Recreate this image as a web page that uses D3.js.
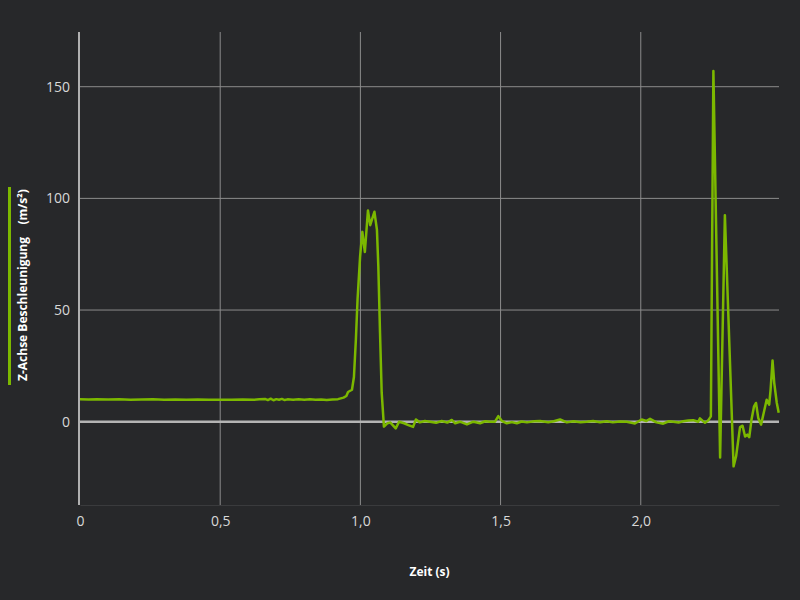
<!DOCTYPE html>
<html>
<head>
<meta charset="utf-8">
<script src="https://cdn.jsdelivr.net/npm/d3@7"></script>
<style>
  body { margin: 0; background: #27282a; }
  svg { display: block; }
</style>
</head>
<body>
<svg width="800" height="600"></svg>
<script>
// Messwerte (Zeit in s, Beschleunigung in m/s²)
var zeit = [
  0, 0.03, 0.06, 0.10, 0.14, 0.18, 0.22, 0.26, 0.30, 0.34, 0.38, 0.42, 0.46, 0.50,
  0.54, 0.58, 0.62, 0.64, 0.66, 0.67, 0.68, 0.69, 0.70, 0.71, 0.72, 0.73, 0.74, 0.76,
  0.78, 0.80, 0.82, 0.84, 0.86, 0.88, 0.90, 0.92, 0.94, 0.95, 0.956, 0.970, 0.977,
  0.984, 0.990, 0.999, 1.007, 1.016, 1.027, 1.035, 1.050, 1.059, 1.064, 1.070, 1.076,
  1.084, 1.096, 1.107, 1.126, 1.138, 1.156, 1.171, 1.188, 1.198, 1.212, 1.230, 1.248,
  1.270, 1.290, 1.310, 1.326, 1.338, 1.355, 1.380, 1.403, 1.427, 1.445, 1.462, 1.480,
  1.492, 1.504, 1.522, 1.540, 1.558, 1.575, 1.594, 1.620, 1.641, 1.670, 1.690, 1.712,
  1.736, 1.760, 1.785, 1.807, 1.830, 1.855, 1.879, 1.900, 1.925, 1.950, 1.979, 2.003,
  2.020, 2.033, 2.056, 2.080, 2.100, 2.116, 2.135, 2.151, 2.170, 2.187, 2.205, 2.211,
  2.229, 2.240, 2.250, 2.259, 2.283, 2.300, 2.331, 2.340, 2.348, 2.354, 2.363, 2.372,
  2.380, 2.387, 2.395, 2.404, 2.411, 2.419, 2.429, 2.437, 2.449, 2.458, 2.463, 2.470,
  2.476, 2.485, 2.492
];
var beschleunigung = [
  10.0, 9.9, 10.0, 9.9, 10.0, 9.8, 9.9, 10.0, 9.8, 9.9, 9.8, 9.9, 9.8, 9.8,
  9.8, 9.9, 9.8, 10.0, 10.2, 9.7, 10.3, 9.6, 10.1, 9.8, 10.2, 9.7, 10.0, 9.8,
  10.0, 9.8, 10.0, 9.8, 9.9, 9.7, 9.9, 10.1, 10.8, 11.5, 13.3, 14.3, 20,
  37, 55, 74, 85, 76, 94.6, 88, 94, 86, 69.5, 40, 13,
  -2.2, -0.7, -0.4, -3, 0, -0.7, -1.5, -2.3, 1, -0.3, 0.3, 0,
  -0.5, 0.3, -0.4, 0.8, -0.7, 0, -1.2, 0, -0.7, 0.2, 0, 0,
  2.5, 0.4, -0.7, -0.2, -0.7, 0.1, -0.3, 0.2, 0.3, -0.2, 0.2, 1,
  -0.3, 0.2, -0.2, 0, 0.3, -0.2, 0.2, -0.3, 0.1, 0, -0.8, 1,
  0.3, 1.3, -0.3, -0.9, 0.2, 0, -0.4, 0.2, 0.5, 0.7, 0, 1.5,
  -0.5, 0.5, 2.4, 157, -16, 92.5, -20, -15.5, -8, -2.4, -1.8, -6.6,
  -5.8, -6.9, 1, 6.9, 8.4, 1.7, -1.3, 3.1, 9.8, 7.6, 14.3, 27.4,
  17.4, 8.5, 4
];
var xTicks = [0, 0.5, 1.0, 1.5, 2.0];
var yTicks = [0, 50, 100, 150];

var svg = d3.select("svg"),
    margin = {top: 32, right: 21, bottom: 95, left: 80},
    width = +svg.attr("width") - margin.left - margin.right,
    height = +svg.attr("height") - margin.top - margin.bottom,
    g = svg.append("g").attr("transform", "translate(" + margin.left + "," + margin.top + ")");

svg.insert("rect", ":first-child")
    .attr("width", 800).attr("height", 600).attr("fill", "#27282a");

var x = d3.scaleLinear().domain([0, 2.493]).range([0, width]);
var y = d3.scaleLinear().domain([-37.3, 174.5]).range([height, 0]);

var deKomma = function(d) { return d === 0 ? "0" : d3.format(".1f")(d).replace(".", ","); };

// vertikale Gitterlinien
g.append("g")
    .selectAll("line")
    .data(xTicks.slice(1))
    .enter().append("line")
      .attr("x1", function(d) { return x(d); })
      .attr("x2", function(d) { return x(d); })
      .attr("y1", 0)
      .attr("y2", height)
      .attr("stroke", "#8c8c8c")
      .attr("stroke-width", 1);

// horizontale Gitterlinien
g.append("g")
    .selectAll("line")
    .data(yTicks.slice(1))
    .enter().append("line")
      .attr("x1", 0)
      .attr("x2", width)
      .attr("y1", function(d) { return y(d); })
      .attr("y2", function(d) { return y(d); })
      .attr("stroke", "#8c8c8c")
      .attr("stroke-width", 1);

// x-Achse unten
var xAxis = g.append("g")
    .attr("transform", "translate(0," + height + ")")
    .call(d3.axisBottom(x).tickValues(xTicks).tickFormat(deKomma).tickSize(0).tickPadding(11));
xAxis.select(".domain").attr("stroke", "#3a3b3d");
xAxis.selectAll("text")
    .attr("fill", "#d8d8d8")
    .style("font", "14px 'Open Sans', sans-serif");

var yAxis = g.append("g")
    .call(d3.axisLeft(y).tickValues(yTicks).tickSize(0).tickPadding(10));
yAxis.select(".domain").remove();
yAxis.selectAll("text")
    .attr("fill", "#d8d8d8")
    .style("font", "14px 'Open Sans', sans-serif");

// Nulllinie
g.append("line")
    .attr("x1", 0).attr("x2", width)
    .attr("y1", y(0)).attr("y2", y(0))
    .attr("stroke", "#b4b4b4")
    .attr("stroke-width", 2.5);

// y-Achsenlinie
g.append("line")
    .attr("x1", -1).attr("x2", -1)
    .attr("y1", 0).attr("y2", height)
    .attr("stroke", "#b0b0b0")
    .attr("stroke-width", 2);

var punkte = zeit.map(function(t, i) { return [t, beschleunigung[i]]; });

var linie = d3.line()
    .x(function(d) { return x(d[0]); })
    .y(function(d) { return y(d[1]); });

g.append("path")
    .datum(punkte)
    .attr("fill", "none")
    .attr("stroke", "#7cb800")
    .attr("stroke-width", 2.5)
    .attr("stroke-linejoin", "round")
    .attr("d", linie);

// Achsentitel
svg.append("text")
    .attr("x", margin.left + width / 2)
    .attr("y", 576)
    .attr("text-anchor", "middle")
    .attr("fill", "#ffffff")
    .style("font", "bold 12px 'Open Sans', sans-serif")
    .text("Zeit (s)");

svg.append("rect")
    .attr("x", 8).attr("y", 187)
    .attr("width", 3).attr("height", 198)
    .attr("fill", "#7cb800");

svg.append("text")
    .attr("transform", "translate(27,381) rotate(-90)")
    .attr("fill", "#ffffff")
    .attr("xml:space", "preserve")
    .style("font", "bold 12px 'Open Sans', sans-serif")
    .style("white-space", "pre")
    .text("Z-Achse Beschleunigung    (m/s²)");
</script>
</body>
</html>
